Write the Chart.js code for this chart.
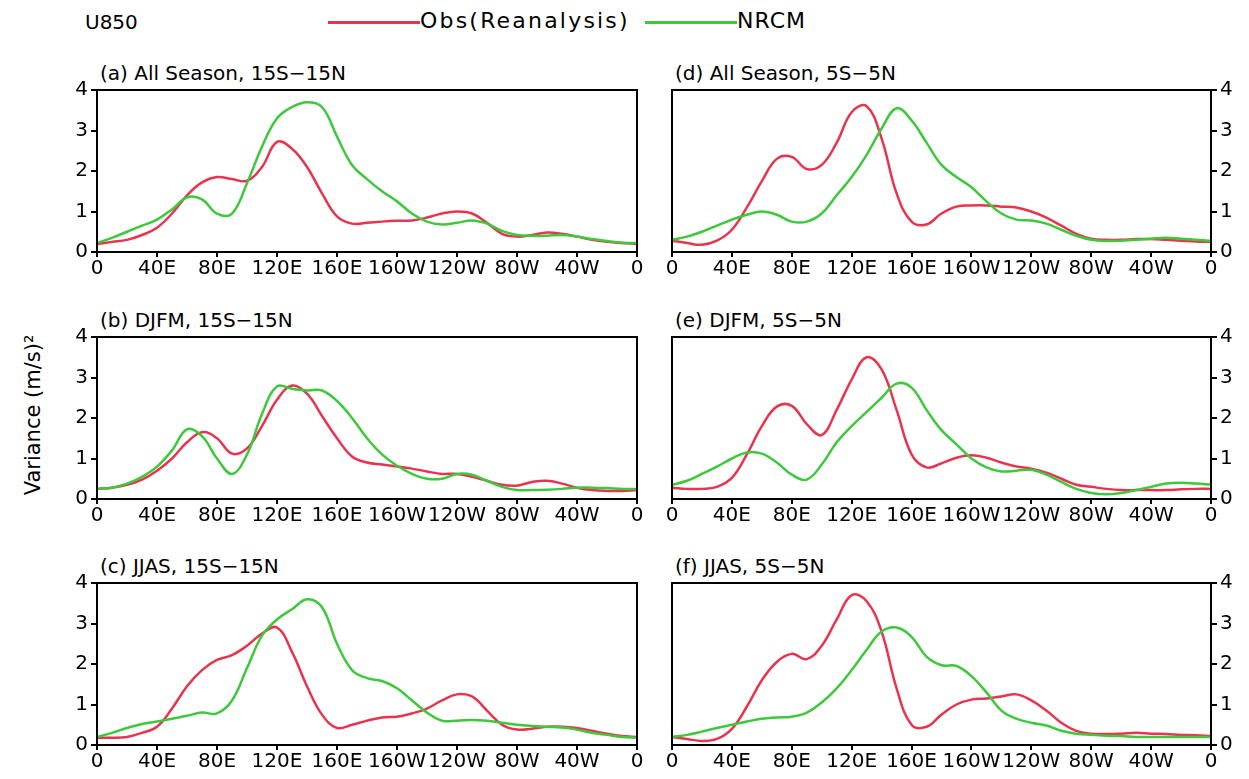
<!DOCTYPE html>
<html>
<head>
<meta charset="utf-8">
<title>U850 variance</title>
<script src="https://cdn.jsdelivr.net/npm/chart.js@4.4.1/dist/chart.umd.min.js"></script>
<style>
    body { margin: 0; background: #fff; }
    #page { position: relative; width: 1249px; height: 779px; overflow: hidden; font-family: "DejaVu Sans", sans-serif; color: #000; }
    canvas { position: absolute; }
    .txt { position: absolute; white-space: pre; font-size: 20px; line-height: 22px; }
    .key { position: absolute; height: 3px; }
    #ylabel { position: absolute; left: 33px; top: 415px; font-size: 21px; white-space: pre; transform: translate(-50%, -50%) rotate(-90deg); }
</style>
</head>
<body>
<div id="page">
    <div class="txt" style="left:85px; top:11px;">U850</div>
    <div class="key" style="left:328px; top:21px; width:92px; background:#e8344e;"></div>
    <div class="txt" style="left:420px; top:10px; font-size:22px; letter-spacing:2.2px;">Obs(Reanalysis)</div>
    <div class="key" style="left:645px; top:21px; width:92px; background:#3ec83c;"></div>
    <div class="txt" style="left:737px; top:10px; font-size:22px; letter-spacing:1px;">NRCM</div>
    <div id="ylabel">Variance (m/s)²</div>

    <div class="txt" style="left:100px; top:62px;">(a) All Season, 15S−15N</div>
    <div class="txt" style="left:675px; top:62px;">(d) All Season, 5S−5N</div>
    <div class="txt" style="left:100px; top:309px;">(b) DJFM, 15S−15N</div>
    <div class="txt" style="left:675px; top:309px;">(e) DJFM, 5S−5N</div>
    <div class="txt" style="left:100px; top:555px;">(c) JJAS, 15S−15N</div>
    <div class="txt" style="left:675px; top:555px;">(f) JJAS, 5S−5N</div>

    <canvas id="chartA" width="610" height="205" style="left:40px; top:75px;"></canvas>
    <canvas id="chartD" width="594" height="205" style="left:655px; top:75px;"></canvas>
    <canvas id="chartB" width="610" height="205" style="left:40px; top:322px;"></canvas>
    <canvas id="chartE" width="594" height="205" style="left:655px; top:322px;"></canvas>
    <canvas id="chartC" width="610" height="205" style="left:40px; top:568px;"></canvas>
    <canvas id="chartF" width="594" height="205" style="left:655px; top:568px;"></canvas>
</div>
<script>
// Longitudes (degrees east from 0 to 360)
const LON = [0, 10, 20, 30, 40, 50, 60, 70, 80, 90, 100, 110, 120, 130, 140, 150, 160, 170, 180,
    190, 200, 210, 220, 230, 240, 250, 260, 270, 280, 290, 300, 310, 320, 330, 340, 350, 360];
const XLABELS = ['0', '40E', '80E', '120E', '160E', '160W', '120W', '80W', '40W', '0'];
const YLABELS = ['0', '1', '2', '3', '4'];

// (a) All Season, 15S-15N
const obsA = [0.2, 0.25, 0.3, 0.42, 0.6, 0.95, 1.4, 1.72, 1.85, 1.8, 1.76, 2.1, 2.72, 2.55, 2.1, 1.45, 0.88, 0.7, 0.72,
    0.75, 0.77, 0.78, 0.85, 0.95, 1.0, 0.95, 0.72, 0.45, 0.38, 0.42, 0.48, 0.45, 0.38, 0.3, 0.25, 0.22, 0.2];
const nrcmA = [0.22, 0.35, 0.5, 0.65, 0.8, 1.05, 1.35, 1.3, 0.95, 0.95, 1.7, 2.6, 3.3, 3.58, 3.7, 3.58, 2.85, 2.15, 1.8,
    1.5, 1.25, 0.95, 0.75, 0.68, 0.72, 0.78, 0.7, 0.52, 0.42, 0.4, 0.4, 0.42, 0.38, 0.32, 0.27, 0.23, 0.22];
// (b) DJFM, 15S-15N
const obsB = [0.25, 0.28, 0.35, 0.48, 0.7, 1.0, 1.4, 1.65, 1.5, 1.12, 1.25, 1.8, 2.45, 2.8, 2.6, 2.05, 1.5, 1.05, 0.9,
    0.85, 0.8, 0.75, 0.68, 0.62, 0.62, 0.55, 0.45, 0.35, 0.33, 0.42, 0.45, 0.38, 0.28, 0.22, 0.2, 0.2, 0.22];
const nrcmB = [0.25, 0.28, 0.38, 0.55, 0.8, 1.2, 1.72, 1.55, 1.0, 0.62, 1.1, 2.1, 2.78, 2.72, 2.68, 2.68, 2.42, 2.0, 1.5,
    1.1, 0.82, 0.62, 0.5, 0.5, 0.62, 0.6, 0.45, 0.3, 0.22, 0.22, 0.23, 0.25, 0.28, 0.28, 0.27, 0.25, 0.25];
// (c) JJAS, 15S-15N
const obsC = [0.18, 0.18, 0.2, 0.3, 0.45, 0.9, 1.45, 1.85, 2.1, 2.22, 2.45, 2.75, 2.9, 2.3, 1.45, 0.75, 0.42, 0.5, 0.6,
    0.68, 0.7, 0.78, 0.9, 1.1, 1.25, 1.2, 0.85, 0.5, 0.38, 0.4, 0.45, 0.45, 0.42, 0.35, 0.28, 0.22, 0.2];
const nrcmC = [0.2, 0.3, 0.42, 0.52, 0.58, 0.65, 0.72, 0.8, 0.78, 1.1, 1.9, 2.7, 3.1, 3.35, 3.6, 3.4, 2.5, 1.85, 1.65,
    1.58, 1.4, 1.1, 0.8, 0.6, 0.6, 0.62, 0.6, 0.55, 0.5, 0.47, 0.45, 0.43, 0.38, 0.3, 0.25, 0.2, 0.18];
// (d) All Season, 5S-5N
const obsD = [0.28, 0.22, 0.18, 0.28, 0.55, 1.1, 1.75, 2.3, 2.35, 2.05, 2.15, 2.7, 3.45, 3.6, 2.8, 1.45, 0.75, 0.68, 0.95,
    1.12, 1.15, 1.15, 1.12, 1.1, 1.0, 0.85, 0.65, 0.45, 0.33, 0.3, 0.3, 0.32, 0.32, 0.3, 0.28, 0.26, 0.25];
const nrcmD = [0.3, 0.38, 0.5, 0.65, 0.8, 0.92, 1.0, 0.92, 0.75, 0.75, 0.95, 1.4, 1.85, 2.4, 3.05, 3.55, 3.25, 2.7, 2.15,
    1.85, 1.6, 1.25, 0.95, 0.8, 0.78, 0.7, 0.55, 0.4, 0.3, 0.27, 0.28, 0.3, 0.33, 0.35, 0.33, 0.3, 0.28];
// (e) DJFM, 5S-5N
const obsE = [0.28, 0.25, 0.25, 0.3, 0.52, 1.1, 1.8, 2.28, 2.3, 1.85, 1.58, 2.2, 2.95, 3.5, 3.2, 2.2, 1.1, 0.78, 0.88,
    1.02, 1.08, 1.02, 0.9, 0.8, 0.75, 0.65, 0.5, 0.35, 0.3, 0.25, 0.22, 0.22, 0.22, 0.22, 0.24, 0.25, 0.25];
const nrcmE = [0.35, 0.45, 0.62, 0.8, 1.0, 1.15, 1.12, 0.9, 0.6, 0.48, 0.85, 1.4, 1.8, 2.15, 2.5, 2.85, 2.75, 2.2, 1.7,
    1.35, 1.0, 0.78, 0.68, 0.7, 0.72, 0.6, 0.42, 0.25, 0.15, 0.12, 0.15, 0.22, 0.3, 0.38, 0.4, 0.38, 0.35];
// (f) JJAS, 5S-5N
const obsF = [0.2, 0.15, 0.1, 0.15, 0.4, 0.95, 1.6, 2.05, 2.25, 2.12, 2.45, 3.1, 3.7, 3.55, 2.8, 1.4, 0.5, 0.45, 0.75,
    1.0, 1.12, 1.15, 1.2, 1.25, 1.1, 0.85, 0.55, 0.35, 0.28, 0.27, 0.28, 0.3, 0.28, 0.27, 0.25, 0.24, 0.22];
const nrcmF = [0.2, 0.25, 0.33, 0.42, 0.5, 0.58, 0.65, 0.68, 0.7, 0.8, 1.05, 1.4, 1.85, 2.35, 2.8, 2.9, 2.67, 2.18, 1.97,
    1.95, 1.7, 1.3, 0.85, 0.65, 0.55, 0.48, 0.35, 0.28, 0.25, 0.23, 0.22, 0.2, 0.2, 0.2, 0.2, 0.2, 0.2];

const OBS_COLOR = '#e8344e';
const NRCM_COLOR = '#3ec83c';
const FONT = { family: '"DejaVu Sans", sans-serif', size: 20 };

// Draws the black box round the plot area
const framePlugin = {
    id: 'frame',
    afterDraw(chart) {
        const AREA = chart.chartArea;
        const CTX = chart.ctx;
        CTX.save();
        CTX.strokeStyle = '#000';
        CTX.lineWidth = 2;
        CTX.strokeRect(AREA.left, AREA.top, AREA.right - AREA.left, AREA.bottom - AREA.top);
        CTX.restore();
    }
};

function toPoints(values) {
    return values.map((v, i) => ({ x: LON[i], y: v }));
}

function lineGraph(canvas, obs, nrcm, side) {
    const LEFT = side === 'left';
    const CONTEXT = document.getElementById(canvas).getContext('2d');
    new Chart(CONTEXT, {
        type: 'line',
        data: {
            datasets: [{
                label: 'NRCM',
                data: toPoints(nrcm),
                borderColor: NRCM_COLOR,
                order: 0
            }, {
                label: 'Obs(Reanalysis)',
                data: toPoints(obs),
                borderColor: OBS_COLOR,
                order: 1
            }]
        },
        options: {
            responsive: false,
            animation: false,
            layout: {
                padding: LEFT ? { top: 12, right: 13, left: 0, bottom: 0 } : { top: 12, right: 0, left: 17, bottom: 0 }
            },
            elements: {
                point: { radius: 0 },
                line: { tension: 0.4, borderWidth: 2.5, fill: false }
            },
            plugins: {
                legend: { display: false },
                tooltip: { enabled: false }
            },
            scales: {
                x: {
                    type: 'linear',
                    min: 0,
                    max: 360,
                    ticks: {
                        stepSize: 40,
                        autoSkip: false,
                        maxRotation: 0,
                        padding: 0,
                        color: '#000',
                        font: FONT,
                        callback: (value, index) => XLABELS[index]
                    },
                    grid: { drawOnChartArea: false, drawTicks: true, tickLength: 5, color: '#000', lineWidth: 2 },
                    border: { display: false },
                    afterFit: (scale) => { scale.height = 28; }
                },
                y: {
                    position: side,
                    min: 0,
                    max: 4,
                    ticks: {
                        stepSize: 1,
                        padding: 3,
                        color: '#000',
                        font: FONT,
                        callback: (value, index) => YLABELS[index]
                    },
                    grid: { drawOnChartArea: false, drawTicks: true, tickLength: 6, color: '#000', lineWidth: 2 },
                    border: { display: false },
                    afterFit: (scale) => { scale.width = LEFT ? 57 : 38; }
                }
            }
        },
        plugins: [framePlugin]
    });
}

lineGraph('chartA', obsA, nrcmA, 'left');
lineGraph('chartB', obsB, nrcmB, 'left');
lineGraph('chartC', obsC, nrcmC, 'left');
lineGraph('chartD', obsD, nrcmD, 'right');
lineGraph('chartE', obsE, nrcmE, 'right');
lineGraph('chartF', obsF, nrcmF, 'right');
</script>
</body>
</html>
